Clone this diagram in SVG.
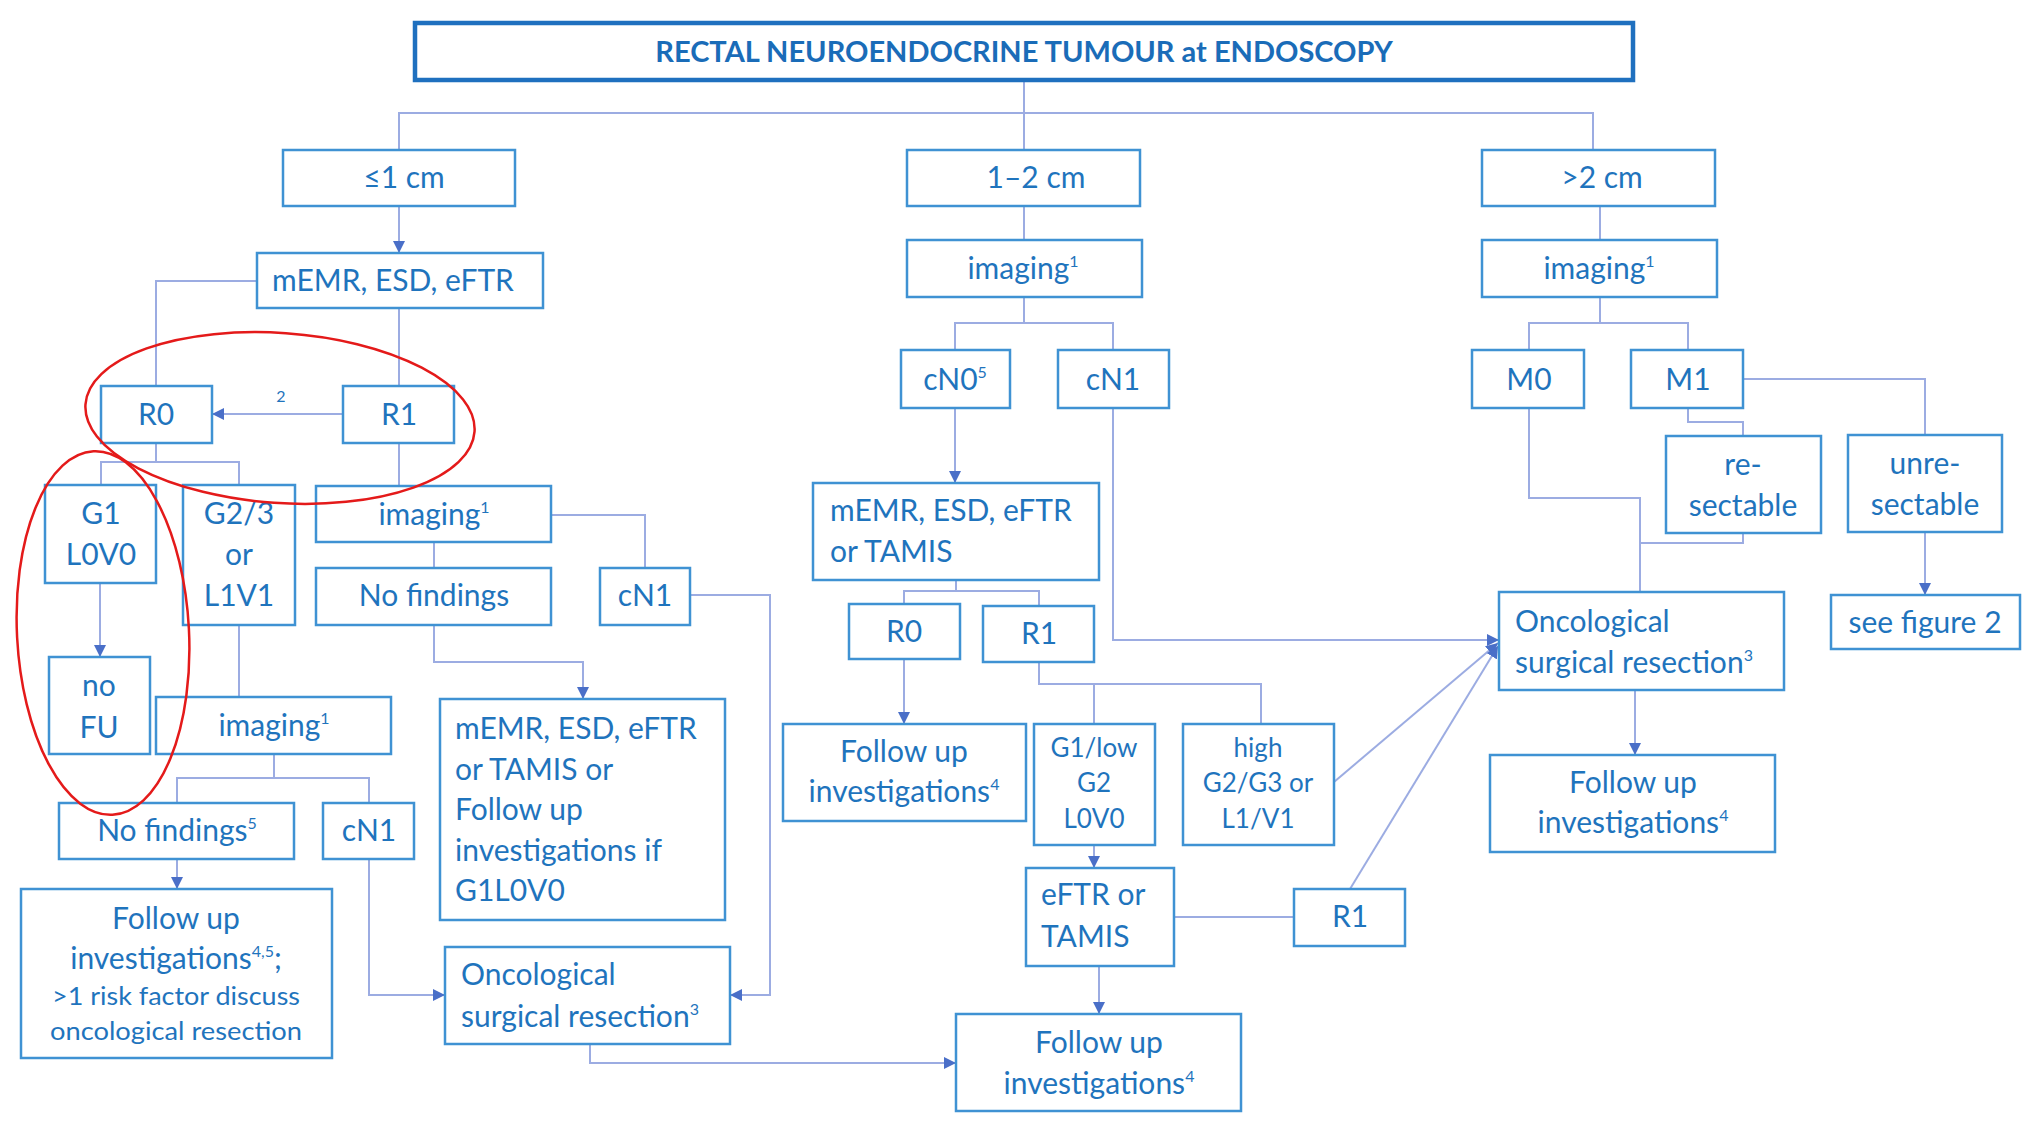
<svg xmlns="http://www.w3.org/2000/svg" width="2023" height="1138" viewBox="0 0 2023 1138">
  <style>
    .box { fill: #ffffff; stroke: #3f92d3; stroke-width: 2.5; }
    .ttl { fill: #ffffff; stroke: #1f70bf; stroke-width: 4.5; }
    .t { font-family: Lato, "Open Sans", "Liberation Sans", sans-serif; font-size: 30px; fill: #1f74bd; text-anchor: middle; }
    .tl { text-anchor: start; }
    .sm { font-size: 26px; }
    .xs { font-size: 25px; }
    .sup { font-size: 16px; }
    .hd { font-family: Lato, "Open Sans", "Liberation Sans", sans-serif; font-size: 29px; font-weight: bold; fill: #1a6cb8; text-anchor: middle; }
    .c { fill: none; stroke: #9cace2; stroke-width: 2; }
    .ring { fill: none; stroke: #e41a1a; stroke-width: 2.5; }
  </style>
  <defs>
    <marker id="arr" viewBox="0 0 10 10" refX="10" refY="5" markerWidth="12" markerHeight="12" markerUnits="userSpaceOnUse" orient="auto">
      <path d="M0,0 L10,5 L0,10 z" fill="#4a6fc8"/>
    </marker>
  </defs>
  <rect width="2023" height="1138" fill="#ffffff"/>

  <!-- connectors -->
  <g id="connectors">
    <path class="c" d="M1024,80 V150"/>
    <path class="c" d="M399,150 V113 H1593 V150"/>
    <path class="c" d="M399,206 V253" marker-end="url(#arr)"/>
    <path class="c" d="M257,281 H156 V386"/>
    <path class="c" d="M399,308 V386"/>
    <path class="c" d="M343,414 H212" marker-end="url(#arr)"/>
    <path class="c" d="M156,443 V462"/>
    <path class="c" d="M101,485 V462 H239 V485"/>
    <path class="c" d="M399,443 V486"/>
    <path class="c" d="M434,542 V568"/>
    <path class="c" d="M551,515 H645 V568"/>
    <path class="c" d="M100,583 V657" marker-end="url(#arr)"/>
    <path class="c" d="M239,625 V697"/>
    <path class="c" d="M434,625 V662 H583 V699" marker-end="url(#arr)"/>
    <path class="c" d="M690,595 H770 V995 H730" marker-end="url(#arr)"/>
    <path class="c" d="M274,754 V778"/>
    <path class="c" d="M177,803 V778 H369 V803"/>
    <path class="c" d="M177,859 V889" marker-end="url(#arr)"/>
    <path class="c" d="M369,859 V995 H445" marker-end="url(#arr)"/>
    <path class="c" d="M590,1044 V1063 H956" marker-end="url(#arr)"/>
    <path class="c" d="M1024,206 V240"/>
    <path class="c" d="M1024,297 V323"/>
    <path class="c" d="M955,350 V323 H1113 V350"/>
    <path class="c" d="M955,408 V483" marker-end="url(#arr)"/>
    <path class="c" d="M1113,408 V640 H1499" marker-end="url(#arr)"/>
    <path class="c" d="M956,580 V591"/>
    <path class="c" d="M904,604 V591 H1039 V606"/>
    <path class="c" d="M904,659 V724" marker-end="url(#arr)"/>
    <path class="c" d="M1039,662 V684 H1261 V724"/>
    <path class="c" d="M1094,684 V724"/>
    <path class="c" d="M1094,845 V868" marker-end="url(#arr)"/>
    <path class="c" d="M1334,782 L1498,643" marker-end="url(#arr)"/>
    <path class="c" d="M1174,917 H1294"/>
    <path class="c" d="M1350,889 L1498,646" marker-end="url(#arr)"/>
    <path class="c" d="M1099,966 V1014" marker-end="url(#arr)"/>
    <path class="c" d="M1600,206 V240"/>
    <path class="c" d="M1600,297 V323"/>
    <path class="c" d="M1529,350 V323 H1688 V350"/>
    <path class="c" d="M1529,408 V498 H1640 V592"/>
    <path class="c" d="M1688,408 V422 H1743 V436"/>
    <path class="c" d="M1743,533 V543 H1640"/>
    <path class="c" d="M1743,379 H1925 V435"/>
    <path class="c" d="M1925,532 V595" marker-end="url(#arr)"/>
    <path class="c" d="M1635,690 V755" marker-end="url(#arr)"/>
  </g>

  <!-- footnote marker on the R1 to R0 link -->
  <text class="t sup" x="281" y="402">2</text>

  <!-- nodes -->
  <g id="title">
    <rect class="ttl" x="415" y="23" width="1218" height="57"/>
    <text class="hd" x="1024" y="62">RECTAL NEUROENDOCRINE TUMOUR at ENDOSCOPY</text>
  </g>
  <g id="size-small">
    <rect class="box" x="283" y="150" width="232" height="56"/>
    <text class="t" x="404" y="188">≤1 cm</text>
  </g>
  <g id="size-mid">
    <rect class="box" x="907" y="150" width="233" height="56"/>
    <text class="t" x="1036" y="188">1–2 cm</text>
  </g>
  <g id="size-large">
    <rect class="box" x="1482" y="150" width="233" height="56"/>
    <text class="t" x="1602" y="188">&gt;2 cm</text>
  </g>
  <g id="resect-small">
    <rect class="box" x="257" y="253" width="286" height="55"/>
    <text class="t" x="393" y="291">mEMR, ESD, eFTR</text>
  </g>
  <g id="imaging-mid">
    <rect class="box" x="907" y="240" width="235" height="57"/>
    <text class="t" x="1023" y="279">imaging<tspan class="sup" dy="-12">1</tspan></text>
  </g>
  <g id="imaging-large">
    <rect class="box" x="1482" y="240" width="235" height="57"/>
    <text class="t" x="1599" y="279">imaging<tspan class="sup" dy="-12">1</tspan></text>
  </g>
  <g id="r0-small">
    <rect class="box" x="101" y="386" width="111" height="57"/>
    <text class="t" x="156" y="425">R0</text>
  </g>
  <g id="r1-small">
    <rect class="box" x="343" y="386" width="111" height="57"/>
    <text class="t" x="399" y="425">R1</text>
  </g>
  <g id="cn0-mid">
    <rect class="box" x="901" y="350" width="109" height="58"/>
    <text class="t" x="955" y="390">cN0<tspan class="sup" dy="-12">5</tspan></text>
  </g>
  <g id="cn1-mid">
    <rect class="box" x="1058" y="350" width="111" height="58"/>
    <text class="t" x="1113" y="390">cN1</text>
  </g>
  <g id="m0">
    <rect class="box" x="1472" y="350" width="112" height="58"/>
    <text class="t" x="1529" y="390">M0</text>
  </g>
  <g id="m1">
    <rect class="box" x="1631" y="350" width="112" height="58"/>
    <text class="t" x="1688" y="390">M1</text>
  </g>
  <g id="g1-l0v0">
    <rect class="box" x="45" y="485" width="111" height="98"/>
    <text class="t" x="101" y="524">G1</text>
    <text class="t" x="101" y="565">L0V0</text>
  </g>
  <g id="g23-l1v1">
    <rect class="box" x="183" y="485" width="112" height="140"/>
    <text class="t" x="239" y="524">G2/3</text>
    <text class="t" x="239" y="565">or</text>
    <text class="t" x="239" y="606">L1V1</text>
  </g>
  <g id="imaging-r1">
    <rect class="box" x="316" y="486" width="235" height="56"/>
    <text class="t" x="434" y="525">imaging<tspan class="sup" dy="-12">1</tspan></text>
  </g>
  <g id="no-findings-r1">
    <rect class="box" x="316" y="568" width="235" height="57"/>
    <text class="t" x="434" y="606">No findings</text>
  </g>
  <g id="cn1-r1">
    <rect class="box" x="600" y="568" width="90" height="57"/>
    <text class="t" x="645" y="606">cN1</text>
  </g>
  <g id="resect-mid">
    <rect class="box" x="813" y="483" width="286" height="97"/>
    <text class="t tl" x="830" y="521">mEMR, ESD, eFTR</text>
    <text class="t tl" x="830" y="562">or TAMIS</text>
  </g>
  <g id="resectable">
    <rect class="box" x="1666" y="436" width="155" height="97"/>
    <text class="t" x="1743" y="475">re-</text>
    <text class="t" x="1743" y="516">sectable</text>
  </g>
  <g id="unresectable">
    <rect class="box" x="1848" y="435" width="154" height="97"/>
    <text class="t" x="1925" y="474">unre-</text>
    <text class="t" x="1925" y="515">sectable</text>
  </g>
  <g id="no-fu">
    <rect class="box" x="49" y="657" width="101" height="97"/>
    <text class="t" x="99" y="696">no</text>
    <text class="t" x="99" y="738">FU</text>
  </g>
  <g id="imaging-g23">
    <rect class="box" x="156" y="697" width="235" height="57"/>
    <text class="t" x="274" y="736">imaging<tspan class="sup" dy="-12">1</tspan></text>
  </g>
  <g id="local-or-fu">
    <rect class="box" x="440" y="699" width="285" height="221"/>
    <text class="t tl" x="455" y="739">mEMR, ESD, eFTR</text>
    <text class="t tl" x="455" y="780">or TAMIS or</text>
    <text class="t tl" x="455" y="820">Follow up</text>
    <text class="t tl" x="455" y="861">investigations if</text>
    <text class="t tl" x="455" y="901">G1L0V0</text>
  </g>
  <g id="r0-mid">
    <rect class="box" x="849" y="604" width="111" height="55"/>
    <text class="t" x="904" y="642">R0</text>
  </g>
  <g id="r1-mid">
    <rect class="box" x="983" y="606" width="111" height="56"/>
    <text class="t" x="1039" y="644">R1</text>
  </g>
  <g id="surgery-right">
    <rect class="box" x="1499" y="592" width="285" height="98"/>
    <text class="t tl" x="1515" y="632">Oncological</text>
    <text class="t tl" x="1515" y="673">surgical resection<tspan class="sup" dy="-12">3</tspan></text>
  </g>
  <g id="see-figure-2">
    <rect class="box" x="1831" y="595" width="189" height="54"/>
    <text class="t" x="1925" y="633">see figure 2</text>
  </g>
  <g id="no-findings-g23">
    <rect class="box" x="59" y="803" width="235" height="56"/>
    <text class="t" x="177" y="841">No findings<tspan class="sup" dy="-12">5</tspan></text>
  </g>
  <g id="cn1-g23">
    <rect class="box" x="323" y="803" width="91" height="56"/>
    <text class="t" x="369" y="841">cN1</text>
  </g>
  <g id="fu-r0-mid">
    <rect class="box" x="783" y="724" width="243" height="97"/>
    <text class="t" x="904" y="762">Follow up</text>
    <text class="t" x="904" y="802">investigations<tspan class="sup" dy="-12">4</tspan></text>
  </g>
  <g id="g1-low-g2">
    <rect class="box" x="1034" y="724" width="121" height="121"/>
    <text class="t sm" x="1094" y="757">G1/low</text>
    <text class="t sm" x="1094" y="792">G2</text>
    <text class="t sm" x="1094" y="828">L0V0</text>
  </g>
  <g id="high-grade">
    <rect class="box" x="1183" y="724" width="151" height="121"/>
    <text class="t sm" x="1258" y="757">high</text>
    <text class="t sm" x="1258" y="792">G2/G3 or</text>
    <text class="t sm" x="1258" y="828">L1/V1</text>
  </g>
  <g id="fu-right">
    <rect class="box" x="1490" y="755" width="285" height="97"/>
    <text class="t" x="1633" y="793">Follow up</text>
    <text class="t" x="1633" y="833">investigations<tspan class="sup" dy="-12">4</tspan></text>
  </g>
  <g id="fu-small">
    <rect class="box" x="21" y="889" width="311" height="169"/>
    <text class="t" x="176" y="929">Follow up</text>
    <text class="t" x="176" y="969">investigations<tspan class="sup" dy="-12">4,5</tspan><tspan dy="12">;</tspan></text>
    <text class="t xs" x="176" y="1005" textLength="248" lengthAdjust="spacingAndGlyphs">&gt;1 risk factor discuss</text>
    <text class="t xs" x="176" y="1040" textLength="252" lengthAdjust="spacingAndGlyphs">oncological resection</text>
  </g>
  <g id="surgery-left">
    <rect class="box" x="445" y="947" width="285" height="97"/>
    <text class="t tl" x="461" y="985">Oncological</text>
    <text class="t tl" x="461" y="1027">surgical resection<tspan class="sup" dy="-12">3</tspan></text>
  </g>
  <g id="eftr-tamis">
    <rect class="box" x="1026" y="868" width="148" height="98"/>
    <text class="t tl" x="1041" y="905">eFTR or</text>
    <text class="t tl" x="1041" y="947">TAMIS</text>
  </g>
  <g id="r1-lower">
    <rect class="box" x="1294" y="889" width="111" height="57"/>
    <text class="t" x="1350" y="927">R1</text>
  </g>
  <g id="fu-bottom">
    <rect class="box" x="956" y="1014" width="285" height="97"/>
    <text class="t" x="1099" y="1053">Follow up</text>
    <text class="t" x="1099" y="1094">investigations<tspan class="sup" dy="-12">4</tspan></text>
  </g>

  <!-- highlight rings -->
  <ellipse class="ring" cx="280" cy="418" rx="195" ry="85" transform="rotate(4 280 418)"/>
  <ellipse class="ring" cx="103" cy="633" rx="86" ry="182" transform="rotate(-3 103 633)"/>
</svg>
